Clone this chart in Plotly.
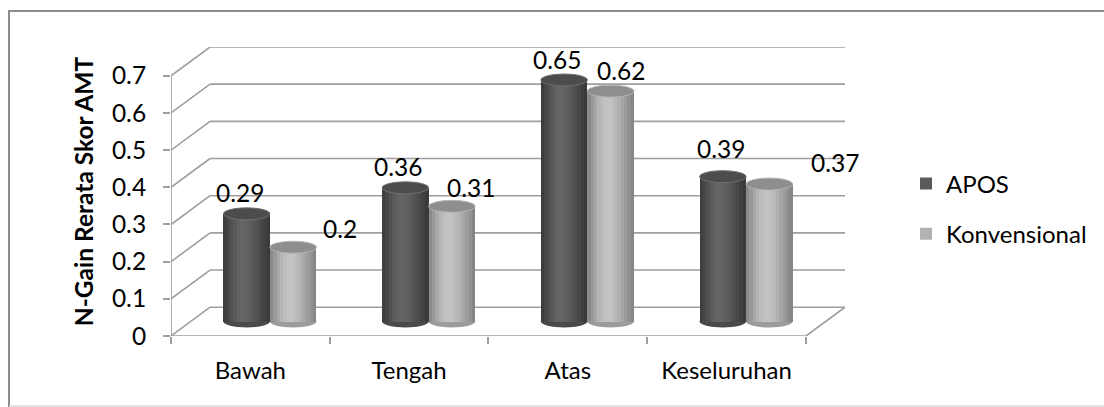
import plotly.graph_objects as go

# ---- data -------------------------------------------------------------
categories = ["Bawah", "Tengah", "Atas", "Keseluruhan"]
series_names = ["APOS", "Konvensional"]
apos = [0.29, 0.36, 0.65, 0.39]
konvensional = [0.20, 0.31, 0.62, 0.37]
y_tick_values = [0, 0.1, 0.2, 0.3, 0.4, 0.5, 0.6, 0.7]
y_tick_labels = ["0", "0.1", "0.2", "0.3", "0.4", "0.5", "0.6", "0.7"]
y_title = "N-Gain Rerata Skor AMT"

# ---- geometry / styling -------------------------------------------------
W, H = 1104, 407
ML, MR, MT, MB = 171, 259, 47, 71
DEPTH_X = 0.246      # shift of the back wall along x (data units)
DEPTH_Y = 0.0775     # shift of the back wall along y (data units)
BAR_W = 0.293        # width of one cylinder (data units)
CAP_H = 0.032        # height of the elliptic cap (data units)
Y_MAX = max(y_tick_values)
GRID = "#9e9e9e"
FONT = "Lato"

legend_colors = ["#5a5a5a", "#b2b2b2"]
cap_fill = ["#4c4c4c", "#8e8e8e"]
cap_rim = ["#6e6e6e", "#b4b4b4"]
base_fill = ["#4a4a4a", "#9c9c9c"]
# left-to-right shading of each cylinder body
shade = [
    ["#3e3e3e", "#474747", "#515151", "#5a5a5a", "#616161", "#656565",
     "#646464", "#606060", "#5b5b5b", "#555555", "#4e4e4e", "#474747",
     "#404040", "#3a3a3a"],
    ["#8a8a8a", "#999999", "#a8a8a8", "#b5b5b5", "#bdbdbd", "#c2c2c2",
     "#c3c3c3", "#bfbfbf", "#b8b8b8", "#b0b0b0", "#a6a6a6", "#9c9c9c",
     "#919191", "#868686"],
]
# label placement relative to the top of each cylinder (pixels)
label_dx = [[-7, -7, -7, -2], [47, 19, 10, 66]]
label_dy = [[21, 21, 20, 28], [19, 19, 21, 22]]

values = [apos, konvensional]
n_cat = len(categories)
x_left, x_right = -0.5, n_cat - 0.5


def px_x(p):
    return (p - ML) / (W - ML - MR)


def px_y(p):
    return (H - MB - p) / (H - MT - MB)


fig = go.Figure()
shapes = []

# back wall horizontal gridlines and left side-wall diagonals
for v in y_tick_values:
    shapes.append(dict(type="line", xref="x", yref="y", layer="below",
                       x0=x_left + DEPTH_X, x1=x_right + DEPTH_X,
                       y0=v + DEPTH_Y, y1=v + DEPTH_Y,
                       line=dict(color=GRID, width=1.6)))
    shapes.append(dict(type="line", xref="x", yref="y", layer="below",
                       x0=x_left, x1=x_left + DEPTH_X,
                       y0=v, y1=v + DEPTH_Y,
                       line=dict(color=GRID, width=1.6)))
# floor: front edge, right edge; front vertical axis
shapes.append(dict(type="line", xref="x", yref="y", layer="below",
                   x0=x_left, x1=x_right, y0=0, y1=0,
                   line=dict(color=GRID, width=1.6)))
shapes.append(dict(type="line", xref="x", yref="y", layer="below",
                   x0=x_right, x1=x_right + DEPTH_X, y0=0, y1=DEPTH_Y,
                   line=dict(color=GRID, width=1.6)))
shapes.append(dict(type="line", xref="x", yref="y", layer="below",
                   x0=x_left, x1=x_left, y0=0, y1=Y_MAX,
                   line=dict(color=GRID, width=1.6)))

n_strips = len(shade[0])
for s, name in enumerate(series_names):
    vals = values[s]
    centers = [i + DEPTH_X / 2 for i in range(n_cat)]
    offset = -BAR_W if s == 0 else 0.0
    # full cylinder body (also provides the legend entry)
    fig.add_trace(go.Bar(
        x=centers, y=vals, base=DEPTH_Y / 2, name=name,
        offset=offset, width=BAR_W, legendgroup=name,
        marker=dict(color=legend_colors[s], line=dict(width=0)),
        hoverinfo="skip",
    ))
    # shading: each layer starts further right and runs to the right edge,
    # so neighbouring tones overlap instead of leaving seams
    for k in range(n_strips):
        start = k * BAR_W / n_strips
        fig.add_trace(go.Bar(
            x=centers, y=vals, base=DEPTH_Y / 2, showlegend=False,
            offset=offset + start, width=BAR_W - start,
            legendgroup=name,
            marker=dict(color=shade[s][k], line=dict(width=0)),
            hoverinfo="skip",
        ))
    for i, v in enumerate(vals):
        x0 = centers[i] + offset
        x1 = x0 + BAR_W
        top = v + DEPTH_Y / 2
        # rounded bottom
        shapes.append(dict(type="circle", xref="x", yref="y", layer="below",
                           x0=x0, x1=x1,
                           y0=DEPTH_Y / 2 - CAP_H / 2, y1=DEPTH_Y / 2 + CAP_H / 2,
                           fillcolor=base_fill[s], line=dict(width=0)))
        # top cap
        shapes.append(dict(type="circle", xref="x", yref="y", layer="above",
                           x0=x0, x1=x1, y0=top - CAP_H / 2, y1=top + CAP_H / 2,
                           fillcolor=cap_fill[s],
                           line=dict(color=cap_rim[s], width=1)))
        fig.add_annotation(x=(x0 + x1) / 2, y=top, xref="x", yref="y",
                           text=f"{v:g}", showarrow=False,
                           xshift=label_dx[s][i], yshift=label_dy[s][i],
                           font=dict(family=FONT, size=24.5, color="#000000"))

# outer frame of the chart area
shapes.append(dict(type="line", xref="paper", yref="paper",
                   x0=px_x(9), x1=px_x(9), y0=px_y(10), y1=px_y(407),
                   line=dict(color="#8c8c8c", width=2)))
shapes.append(dict(type="line", xref="paper", yref="paper",
                   x0=px_x(9), x1=px_x(1110), y0=px_y(11), y1=px_y(11),
                   line=dict(color="#8c8c8c", width=2)))
shapes.append(dict(type="line", xref="paper", yref="paper",
                   x0=px_x(9), x1=px_x(1110), y0=px_y(406), y1=px_y(406),
                   line=dict(color="#d9d9d9", width=1.5)))

fig.update_layout(
    width=W, height=H,
    margin=dict(l=ML, r=MR, t=MT, b=MB, pad=0),
    paper_bgcolor="white", plot_bgcolor="white",
    barmode="overlay", bargap=0,
    font=dict(family=FONT, size=24, color="#000000"),
    shapes=shapes,
    showlegend=True,
    legend=dict(x=px_x(906), y=px_y(209), xanchor="left", yanchor="middle",
                font=dict(family=FONT, size=24, color="#000000"),
                traceorder="grouped", tracegroupgap=16,
                bgcolor="rgba(0,0,0,0)", itemwidth=30),
    xaxis=dict(range=[x_left, x_right + DEPTH_X], showgrid=False,
               zeroline=False, showline=False,
               tickmode="array", tickvals=list(range(n_cat)),
               ticktext=categories, ticks="", ticklabelstandoff=18,
               minor=dict(ticks="outside", tick0=x_left, dtick=1,
                          ticklen=7, tickcolor=GRID, tickwidth=1.6,
                          showgrid=False),
               fixedrange=True),
    yaxis=dict(range=[0, Y_MAX + DEPTH_Y], showgrid=False,
               zeroline=False, showline=False,
               tickmode="array", tickvals=y_tick_values,
               ticktext=y_tick_labels, ticks="outside", ticklen=7,
               tickcolor=GRID, tickwidth=1.6, ticklabelstandoff=12,
               tickfont=dict(family=FONT, size=24.5, color="#000000"),
               title=dict(text=y_title, standoff=11,
                          font=dict(family=FONT, size=24.5, color="#000000",
                                    weight="bold")),
               fixedrange=True),
)

fig.write_html("out.html")
